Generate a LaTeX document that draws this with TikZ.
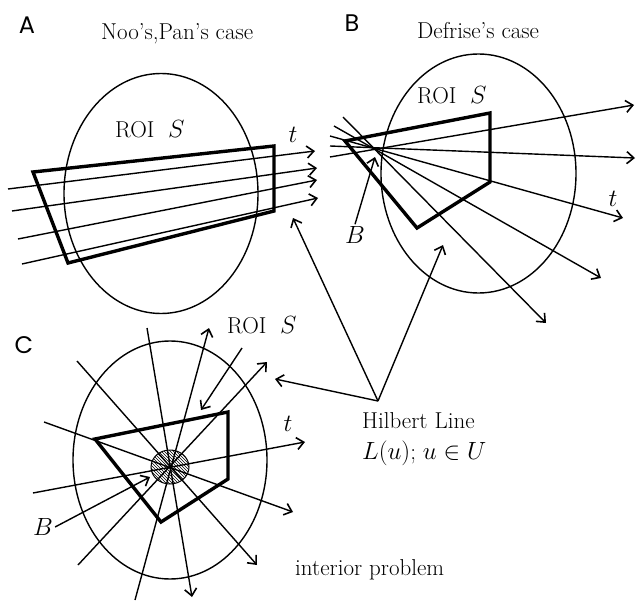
\documentclass[tikz,border=0pt]{standalone}
\usepackage{fontspec}
\newfontfamily\panelfont{Poppins}
\usetikzlibrary{arrows.meta,patterns}
\begin{document}
\begin{tikzpicture}[x=1pt,y=-1pt,
  thin line/.style={line width=1.4pt},
  thick line/.style={line width=3.4pt,line join=miter},
  arr/.style={thin line,-{Straight Barb[length=7pt,width=12pt,line width=1.6pt]}},
  txt/.style={font=\fontsize{23}{27}\selectfont,inner sep=0pt},
  panel/.style={font=\panelfont\fontsize{24}{28}\selectfont,inner sep=0pt}]
\useasboundingbox (0,0) rectangle (638,602);

% ---------- Panel A ----------
\node[panel] (labA) at (27,25) {A};
\node[txt,anchor=base west] (titA) at (101,40) {Noo's,Pan's case};
\draw[thin line] (161,193.5) ellipse [x radius=97, y radius=120];
\node[txt,anchor=base west] (roiA) at (115,138) {ROI \ $S$};
\draw[thick line] (33,172) -- (274,146) -- (274,211) -- (68,263) -- cycle;
\coordinate (a1s) at (8,189);   \coordinate (a1e) at (315,151);
\coordinate (a2s) at (12,211);  \coordinate (a2e) at (317,168);
\coordinate (a3s) at (18,239);  \coordinate (a3e) at (317,180);
\coordinate (a4s) at (22,264);  \coordinate (a4e) at (318,198);
\draw[arr] (a1s) -- (a1e);
\draw[arr] (a2s) -- (a2e);
\draw[arr] (a3s) -- (a3e);
\draw[arr] (a4s) -- (a4e);
\node[txt] (tA) at (293,135) {$t$};

% ---------- Panel B ----------
\node[panel] (labB) at (352,23) {B};
\node[txt,anchor=base west] (titB) at (417,39) {Defrise's case};
\draw[thin line] (478.5,173.5) ellipse [x radius=97.5, y radius=119.5];
\node[txt,anchor=base west] (roiB) at (417,103) {ROI \ $S$};
\draw[thick line] (345,141) -- (490,113) -- (490,182) -- (417,228) -- cycle;
\coordinate (b1s) at (330,157); \coordinate (b1e) at (634,105);
\coordinate (b2s) at (330,146); \coordinate (b2e) at (635,158);
\coordinate (b3s) at (330,136); \coordinate (b3e) at (623,218);
\coordinate (b4s) at (334,126); \coordinate (b4e) at (601,278);
\coordinate (b5s) at (343,117); \coordinate (b5e) at (546,323);
\draw[arr] (b1s) -- (b1e);
\draw[arr] (b2s) -- (b2e);
\draw[arr] (b3s) -- (b3e);
\draw[arr] (b4s) -- (b4e);
\draw[arr] (b5s) -- (b5e);
\node[txt] (tB) at (613,199) {$t$};
\node[txt] (BB) at (355,235) {$B$};
\coordinate (bB) at (375,157);
\draw[arr] (BB.north) ++(0,-2) -- (bB);

% ---------- Panel C ----------
\node[panel] (labC) at (24,345) {C};
\draw[thin line] (170,460) ellipse [x radius=97, y radius=119];
\node[txt,anchor=base west] (roiC) at (227,333) {ROI \ $S$};
\draw[thick line] (95,439) -- (228,412) -- (228,479) -- (161,522) -- cycle;
\draw[line width=1pt,pattern=north west lines] (170,467) ellipse [x radius=19, y radius=17];
\coordinate (c1s) at (147,328); \coordinate (c1e) at (192,597);
\coordinate (c2s) at (135,600); \coordinate (c2e) at (209,328);
\coordinate (c3s) at (77,361);  \coordinate (c3e) at (257,565);
\coordinate (c4s) at (78,565);  \coordinate (c4e) at (267,362);
\coordinate (c5s) at (44,422);  \coordinate (c5e) at (293,512);
\coordinate (c6s) at (33,493);  \coordinate (c6e) at (305,442);
\draw[arr] (c1s) -- (c1e);
\draw[arr] (c2s) -- (c2e);
\draw[arr] (c3s) -- (c3e);
\draw[arr] (c4s) -- (c4e);
\draw[arr] (c5s) -- (c5e);
\draw[arr] (c6s) -- (c6e);
\node[txt] (tC) at (288,424) {$t$};
\coordinate (roiCs) at (242,348); \coordinate (roiCe) at (201,410);
\draw[arr] (roiCs) -- (roiCe);
\node[txt] (BC) at (43,527) {$B$};
\coordinate (bC) at (150,477);
\draw[arr] (BC.east) ++(2,0) -- (bC);

% ---------- Hilbert line ----------
\node[txt,anchor=base west] (hil) at (362,428) {Hilbert Line};
\node[txt,anchor=base west] (hil2) at (362,459) {$L(u)$; $u\in U$};
\node[txt,anchor=base west] (intp) at (295,575) {interior problem};
\coordinate (apex) at (378,401);
\coordinate (hA) at (293,218);
\coordinate (hB) at (443,245);
\coordinate (hC) at (275,379);
\draw[arr] (apex) -- (hA);
\draw[arr] (apex) -- (hB);
\draw[arr] (apex) -- (hC);
\end{tikzpicture}
\end{document}
